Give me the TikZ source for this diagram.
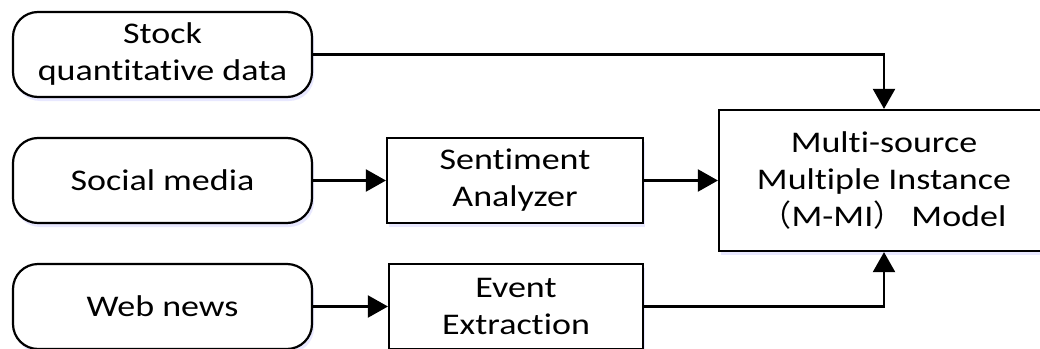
\documentclass[tikz,border=0pt]{standalone}
\usepackage{fontspec}
\setmainfont{Carlito}[FakeStretch=1.2, Ligatures={NoCommon}]
\newfontfamily\cjk{Noto Sans CJK SC}
\usetikzlibrary{arrows.meta,shadows}
\begin{document}
\begin{tikzpicture}[x=1pt,y=-1pt,
  base/.style={draw, line width=2.2pt, fill=white, align=center,
    font=\fontsize{30}{37}\selectfont, inner sep=0pt,
    drop shadow={shadow xshift=2pt, shadow yshift=-4pt, fill=blue!25!white, opacity=0.35}},
  source/.style={base, rounded corners=25pt, minimum width=299pt, minimum height=85pt},
  proc/.style={base, minimum height=85pt},
  arr/.style={line width=2.2pt, -{Triangle[length=20pt,width=22pt]}}]
\useasboundingbox (0,0) rectangle (1040,348);
\clip (0,0) rectangle (1040,348);
\fill[white] (0,0) rectangle (1040,348);

% input sources
\node[source] (stock)  at (162.5,54.5)  {Stock\\quantitative data};
\node[source] (social) at (162.5,180.5) {Social media};
\node[source] (web)    at (162.5,306.5) {Web news};

% processing stages
\node[proc, minimum width=256pt] (senti) at (515,180.5) {Sentiment\\Analyzer};
\node[proc, minimum width=254pt] (event) at (516,306.5) {Event\\Extraction};

% fusion model
\node[base, minimum width=330pt, minimum height=141pt] (model) at (884,180.5)
  {Multi-source\\Multiple Instance\\{\cjk （}M-MI{\cjk ）} Model};

% connectors
\draw[arr] (stock.east) -| (model.north);
\draw[arr] (social.east) -- (senti.west);
\draw[arr] (web.east) -- (event.west);
\draw[arr] (senti.east) -- (model.west);
\draw[arr] (event.east) -| (model.south);
\end{tikzpicture}
\end{document}
